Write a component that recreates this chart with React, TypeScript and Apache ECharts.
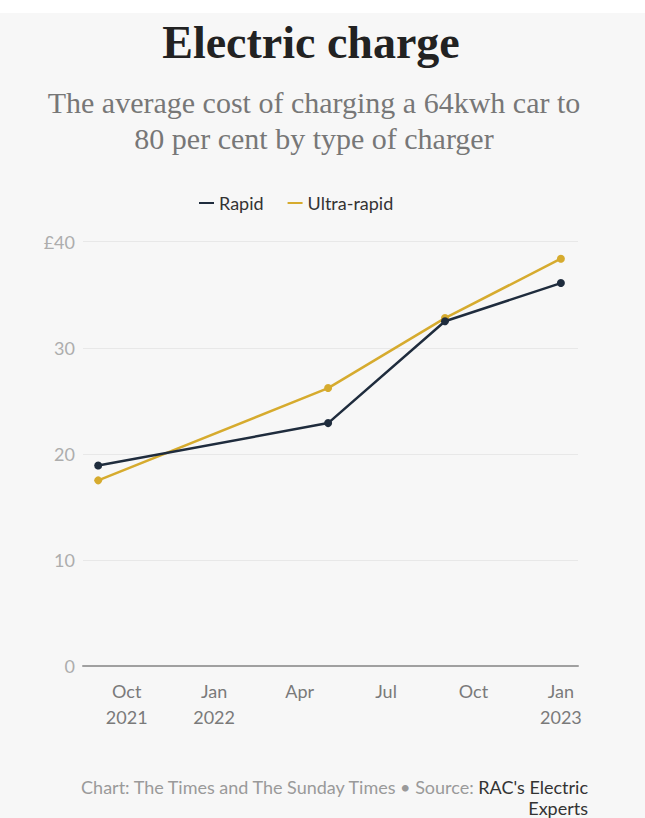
import React, { useEffect, useRef } from "react";
import * as echarts from "echarts";

const dates = ["2021-09-01", "2022-05-01", "2022-09-01", "2023-01-01"];
const rapid = [18.9, 22.9, 32.5, 36.1];
const ultraRapid = [17.5, 26.2, 32.8, 38.4];
const xTickDates = ["2021-10-01", "2022-01-01", "2022-04-01", "2022-07-01", "2022-10-01", "2023-01-01"];
const xTickLabels = ["Oct\n2021", "Jan\n2022", "Apr", "Jul", "Oct", "Jan\n2023"];
const yTickValues = [0, 10, 20, 30, 40];
const yTickLabels = ["0", "10", "20", "30", "£40"];
const xRange = ["2021-08-16", "2023-01-19"];

const toTs = (s: string) => {
  const [y, m, d] = s.split("-").map(Number);
  return Date.UTC(y, m - 1, d);
};

export default function App() {
  const ref = useRef<HTMLDivElement>(null);
  useEffect(() => {
    if (!ref.current) return;
    const chart = echarts.init(ref.current, null, { renderer: "svg" });
    const tickTs = xTickDates.map(toTs);
    const sans = "Lato, 'Open Sans', sans-serif";
    const serif = "'Liberation Serif', 'DejaVu Serif', serif";
    chart.setOption({
      animation: false,
      backgroundColor: "#f7f7f7",
      graphic: [
        { type: "rect", left: 0, top: 0, shape: { width: 645, height: 13 }, style: { fill: "#ffffff" } },
        {
          type: "text",
          x: 311,
          y: 19,
          style: { text: "Electric charge", font: `bold 46px ${serif}`, fill: "#222222", textAlign: "center" },
        },
        {
          type: "text",
          x: 314,
          y: 84,
          style: {
            text: "The average cost of charging a 64kwh car to\n80 per cent by type of charger",
            font: `30px ${serif}`,
            lineHeight: 36,
            fill: "#777777",
            textAlign: "center",
          },
        },
        {
          type: "text",
          x: 588,
          y: 776,
          style: {
            text: "{a|Chart: The Times and The Sunday Times • Source: }{b|RAC's Electric}\n{b|Experts}",
            textAlign: "right",
            lineHeight: 21,
            rich: {
              a: { font: `18px ${sans}`, fill: "#9a9a9a", lineHeight: 21 },
              b: { font: `18px ${sans}`, fill: "#333333", lineHeight: 21 },
            },
          },
        },
      ],
      legend: {
        data: ["Rapid", "Ultra-rapid"],
        left: 194,
        top: 189,
        icon: "rect",
        itemWidth: 15,
        itemHeight: 2,
        itemGap: 24,
        itemStyle: {},
        textStyle: { fontFamily: sans, fontSize: 18, color: "#333333" },
      },
      grid: { left: 83, right: 67, top: 241.7, bottom: 152 },
      xAxis: {
        type: "value",
        min: toTs(xRange[0]),
        max: toTs(xRange[1]),
        axisLine: { show: true, lineStyle: { color: "#a0a0a0", width: 2 } },
        axisTick: { show: false },
        splitLine: { show: false },
        axisLabel: {
          customValues: tickTs,
          formatter: (v: number) => {
            const i = tickTs.findIndex((t) => Math.abs(t - v) < 86400000);
            return i >= 0 ? xTickLabels[i] : "";
          },
          fontFamily: sans,
          fontSize: 18,
          color: "#7a7a7a",
          lineHeight: 26,
          margin: 12,
        },
      },
      yAxis: {
        type: "value",
        min: 0,
        max: 40,
        interval: 10,
        axisLine: { show: false },
        axisTick: { show: false },
        splitLine: { lineStyle: { color: "#e8e8e8", width: 1 } },
        axisLabel: {
          formatter: (v: number) => {
            const i = yTickValues.indexOf(v);
            return i >= 0 ? yTickLabels[i] : String(v);
          },
          fontFamily: sans,
          fontSize: 18,
          color: "#adadad",
          margin: 8,
        },
      },
      series: [
        {
          name: "Ultra-rapid",
          type: "line",
          data: dates.map((d, i) => [toTs(d), ultraRapid[i]]),
          color: "#d6ab2e",
          lineStyle: { width: 2.5, color: "#d6ab2e" },
          itemStyle: { color: "#d6ab2e" },
          symbol: "circle",
          symbolSize: 8,
          z: 2,
        },
        {
          name: "Rapid",
          type: "line",
          data: dates.map((d, i) => [toTs(d), rapid[i]]),
          color: "#1f2c3d",
          lineStyle: { width: 2.5, color: "#1f2c3d" },
          itemStyle: { color: "#1f2c3d" },
          symbol: "circle",
          symbolSize: 8,
          z: 3,
        },
      ],
    });
    return () => chart.dispose();
  }, []);
  return (
    <div style={{ position: "absolute", left: 0, top: 0, width: 645, height: 818 }}>
      <div ref={ref} style={{ width: 645, height: 818 }} />
    </div>
  );
}
